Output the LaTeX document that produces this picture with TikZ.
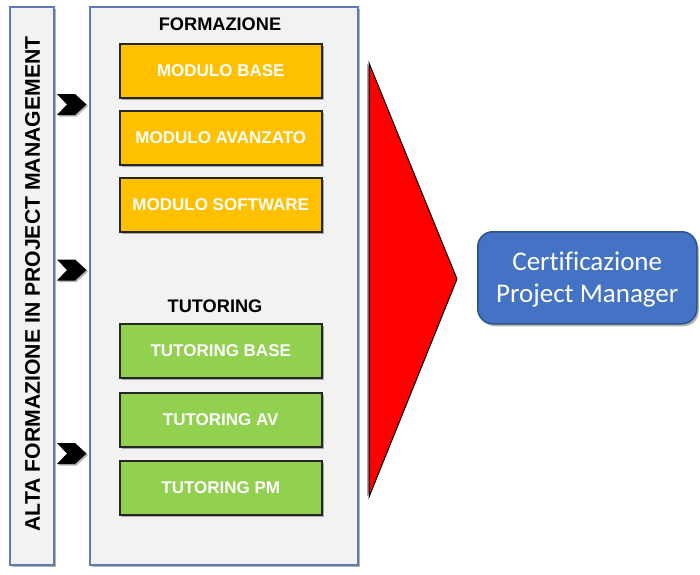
\documentclass[tikz,border=0pt]{standalone}
\usepackage{fontspec}
\setmainfont{Liberation Sans}
\newfontfamily\calibri[Ligatures=NoCommon]{Carlito}
\usetikzlibrary{shadows}
\definecolor{panelfill}{RGB}{242,242,242}
\definecolor{panelborder}{RGB}{94,122,176}
\definecolor{orangebox}{RGB}{255,192,0}
\definecolor{greenbox}{RGB}{146,208,80}
\definecolor{boxborder}{RGB}{38,38,38}
\definecolor{certfill}{RGB}{68,114,196}
\definecolor{certborder}{RGB}{47,82,143}
\tikzset{
  shadowed/.style={drop shadow={shadow xshift=2pt,shadow yshift=-2.5pt,opacity=0.3,fill=black}},
  panel/.style={draw=panelborder,line width=1.6pt,fill=panelfill,anchor=north west,inner sep=0pt,shadowed},
  modbox/.style={draw=boxborder,line width=1.5pt,anchor=north west,minimum width=202pt,minimum height=54pt,inner sep=0pt,text=white,font=\fontsize{17}{20}\selectfont\bfseries,shadowed},
  orangemod/.style={modbox,fill=orangebox},
  greenmod/.style={modbox,fill=greenbox},
  heading/.style={font=\fontsize{18.2}{21}\selectfont\bfseries,text=black,inner sep=0pt},
  chev/.style={fill=black,drop shadow={shadow xshift=1.5pt,shadow yshift=-1.5pt,opacity=0.3,fill=black}},
}
\begin{document}
\begin{tikzpicture}[x=1pt,y=-1pt]
\useasboundingbox (0,0) rectangle (700,574);
% left strip and main panel
\node[panel,minimum width=44pt,minimum height=558pt] (strip) at (9,6) {};
\node[panel,minimum width=268pt,minimum height=558pt] (panel) at (89,6) {};
\node[rotate=90,font=\fontsize{21.2}{24}\selectfont\bfseries,inner sep=0pt] (striptext) at (32.5,284) {ALTA FORMAZIONE IN PROJECT MANAGEMENT};
% headings
\node[heading] (formazione) at (220,24.5) {FORMAZIONE};
\node[heading] (tutoring) at (215,306.5) {TUTORING};
% modules
\node[orangemod] (m1) at (119,43) {MODULO BASE};
\node[orangemod] (m2) at (119,110) {MODULO AVANZATO};
\node[orangemod] (m3) at (119,177) {MODULO SOFTWARE};
\node[greenmod] (t1) at (119,323) {TUTORING BASE};
\node[greenmod] (t2) at (119,392) {TUTORING AV};
\node[greenmod] (t3) at (119,460) {TUTORING PM};
% chevrons
\foreach \cy in {104.5,270,453.5}{
  \fill[chev] (57,\cy-10.5) -- (75,\cy-10.5) -- (86.5,\cy) -- (75,\cy+10.5) -- (57,\cy+10.5) -- (67,\cy) -- cycle;
}
% red triangle
\filldraw[fill=red,draw=black,line width=1pt,drop shadow={shadow xshift=-2pt,shadow yshift=0pt,opacity=0.35,fill=black}] (369,63) -- (457,279) -- (369,497) -- cycle;
% certification box
\node[draw=certborder,line width=1.5pt,fill=certfill,rounded corners=15pt,anchor=north west,minimum width=219pt,minimum height=92pt,inner sep=0pt,shadowed] (cert) at (477,231) {};
\node[text=white,font=\calibri\fontsize{27}{31.5}\selectfont,align=center,inner sep=0pt] (certtext) at ([yshift=-2pt]cert.center) {Certificazione\\Project Manager};
\end{tikzpicture}
\end{document}
